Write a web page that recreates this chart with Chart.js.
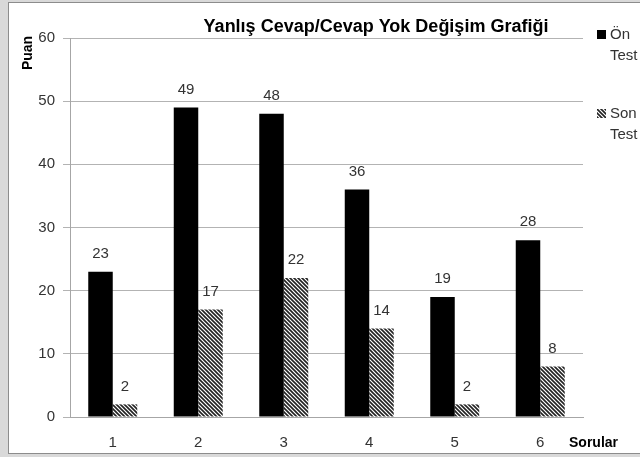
<!DOCTYPE html>
<html lang="tr">
<head>
    <meta charset="utf-8">
    <title>Yanlış Cevap/Cevap Yok Değişim Grafiği</title>
    <style>
        body { margin: 0; background: #d9d9d9; }
        #wrap { position: relative; width: 640px; height: 457px; overflow: hidden; }
        #panel { position: absolute; left: 8px; top: 2px; width: 640px; height: 452px;
                 background: #fff; border: 1px solid #8c8c8c; box-sizing: border-box; }
        #box { position: absolute; left: 0; top: 0; width: 640px; height: 457px; }
    </style>
</head>
<body>
    <div id="wrap">
        <div id="panel"></div>
        <div id="box"><canvas id="myChart"></canvas></div>
    </div>
    <script src="https://cdn.jsdelivr.net/npm/chart.js"></script>
    <script>
        // values
        const sorular = ['1', '2', '3', '4', '5', '6'];
        const onTest = [23, 49, 48, 36, 19, 28];
        const sonTest = [2, 17, 22, 14, 2, 8];
        const yTicks = [0, 10, 20, 30, 40, 50, 60];

        const FONT = "'Liberation Sans', Arial, sans-serif";
        const TXT = '#333333';

        // diagonal hatch for Son Test
        const makeHatch = () => {
            const c = document.createElement('canvas');
            c.width = 4;
            c.height = 4;
            const g = c.getContext('2d');
            g.fillStyle = '#fff';
            g.fillRect(0, 0, 4, 4);
            g.strokeStyle = '#222';
            g.lineWidth = 1.6;
            g.beginPath();
            g.moveTo(-1, -1); g.lineTo(5, 5);
            g.moveTo(-1, 3); g.lineTo(1, 5);
            g.moveTo(3, -1); g.lineTo(5, 1);
            g.stroke();
            return g.createPattern(c, 'repeat');
        }
        const hatch = makeHatch();

        const extras = {
            id: 'extras',
            afterDatasetsDraw(chart) {
                const ctx = chart.ctx;
                ctx.save();
                // value labels
                ctx.fillStyle = TXT;
                ctx.font = '15px ' + FONT;
                ctx.textAlign = 'center';
                ctx.textBaseline = 'middle';
                chart.data.datasets.forEach((ds, i) => {
                    chart.getDatasetMeta(i).data.forEach((bar, j) => {
                        ctx.fillText(ds.data[j], bar.x, bar.y - 18);
                    });
                });
                // title
                ctx.fillStyle = '#000';
                ctx.font = 'bold 18px ' + FONT;
                ctx.textBaseline = 'alphabetic';
                ctx.fillText('Yanlış Cevap/Cevap Yok Değişim Grafiği', 376, 32);
                // axis titles
                ctx.font = 'bold 14px ' + FONT;
                ctx.textAlign = 'left';
                ctx.textBaseline = 'middle';
                ctx.fillText('Sorular', 569, 443);
                ctx.translate(28, 53);
                ctx.rotate(-Math.PI / 2);
                ctx.textAlign = 'center';
                ctx.fillText('Puan', 0, 0);
                ctx.restore();

                // legend
                ctx.save();
                ctx.font = '15px ' + FONT;
                ctx.textBaseline = 'middle';
                ctx.fillStyle = '#000';
                ctx.fillRect(597, 30, 9, 9);
                ctx.fillStyle = hatch;
                ctx.fillRect(597, 109, 9, 9);
                ctx.fillStyle = TXT;
                ctx.fillText('Ön', 610, 35);
                ctx.fillText('Test', 610, 56);
                ctx.fillText('Son', 610, 114);
                ctx.fillText('Test', 610, 135);
                ctx.restore();
            }
        };

        const ctx = document.getElementById('myChart').getContext('2d');
        const myChart = new Chart(ctx, {
            type: 'bar',
            data: {
                labels: sorular,
                datasets: [
                    {
                        label: 'Ön Test',
                        data: onTest,
                        backgroundColor: '#000',
                        categoryPercentage: 0.573,
                        barPercentage: 1
                    },
                    {
                        label: 'Son Test',
                        data: sonTest,
                        backgroundColor: hatch,
                        categoryPercentage: 0.573,
                        barPercentage: 1
                    }
                ]
            },
            options: {
                responsive: true,
                maintainAspectRatio: false,
                animation: false,
                layout: { padding: { left: 0, right: 57, top: 38, bottom: 0 } },
                plugins: {
                    legend: { display: false },
                    title: { display: false },
                    tooltip: { enabled: false }
                },
                scales: {
                    x: {
                        grid: { display: false, drawTicks: false },
                        border: { display: true, color: '#a6a6a6', width: 1 },
                        ticks: { color: TXT, font: { size: 15, family: FONT }, padding: 17 },
                        afterFit: (s) => { s.height = 40; }
                    },
                    y: {
                        min: 0,
                        max: 60,
                        afterBuildTicks: (s) => { s.ticks = yTicks.map(v => ({ value: v })); },
                        grid: { color: '#b3b3b3', tickLength: 7 },
                        border: { display: true, color: '#a6a6a6', width: 1 },
                        ticks: { color: TXT, font: { size: 15, family: FONT }, padding: 8 },
                        afterFit: (s) => { s.width = 70; }
                    }
                }
            },
            plugins: [extras]
        });
    </script>
</body>
</html>
